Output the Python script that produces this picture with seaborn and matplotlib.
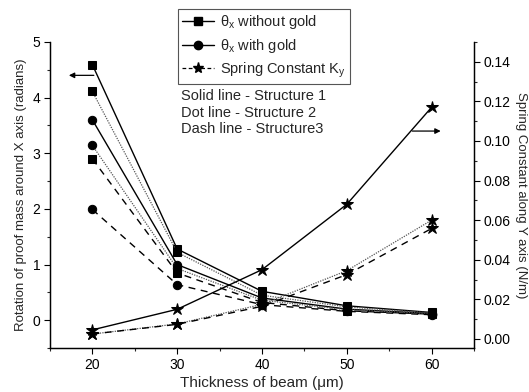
import numpy as np
import pandas as pd
import matplotlib
matplotlib.use("Agg")
import matplotlib.pyplot as plt
from matplotlib.lines import Line2D
from matplotlib.ticker import MultipleLocator, FormatStrFormatter
import seaborn as sns

sns.set_theme(style="ticks")
plt.rcParams["font.family"] = ["Liberation Sans", "DejaVu Sans"]
plt.rcParams["mathtext.default"] = "regular"

# Beam thickness (um)
thickness = [20, 30, 40, 50, 60]

# Rotation theta_x (radians) per structure
theta_nogold_s1 = [4.59, 1.28, 0.52, 0.26, 0.14]
theta_nogold_s2 = [4.11, 1.22, 0.45, 0.24, 0.13]
theta_nogold_s3 = [2.90, 0.85, 0.32, 0.17, 0.11]
theta_gold_s1 = [3.60, 1.00, 0.40, 0.20, 0.12]
theta_gold_s2 = [3.14, 0.93, 0.36, 0.19, 0.12]
theta_gold_s3 = [1.99, 0.64, 0.28, 0.16, 0.10]

# Spring constant K_y (N/m) per structure
ky_s1 = [0.0046, 0.015, 0.035, 0.068, 0.117]
ky_s2 = [0.0025, 0.0076, 0.0175, 0.0345, 0.060]
ky_s3 = [0.0025, 0.0074, 0.0165, 0.0325, 0.0558]

legend_labels = ["θ$_x$ without gold", "θ$_x$ with gold", "Spring Constant K$_y$"]
structure_notes = ["Solid line - Structure 1", "Dot line - Structure 2", "Dash line - Structure3"]

fig = plt.figure(figsize=(5.29, 3.92), dpi=100)
ax = fig.add_axes([0.0945, 0.112, 0.8015, 0.781])
ax2 = ax.twinx()

styles = {"s1": dict(ls="-", lw=1.0, color="black"),
          "s2": dict(ls=(0, (1, 1)), lw=0.9, color="#555555"),
          "s3": dict(ls=(0, (5, 4)), lw=1.0, color="black")}

theta_series = [
    (theta_nogold_s1, "s", "s1"), (theta_nogold_s2, "s", "s2"), (theta_nogold_s3, "s", "s3"),
    (theta_gold_s1, "o", "s1"), (theta_gold_s2, "o", "s2"), (theta_gold_s3, "o", "s3"),
]
for vals, mk, st in theta_series:
    df = pd.DataFrame({"t": thickness, "v": vals})
    sns.lineplot(data=df, x="t", y="v", ax=ax, marker=mk, markersize=6,
                 markeredgecolor="black", markerfacecolor="black",
                 linestyle=styles[st]["ls"], linewidth=styles[st]["lw"],
                 color=styles[st]["color"], legend=False)

for vals, st in [(ky_s1, "s1"), (ky_s2, "s2"), (ky_s3, "s3")]:
    df = pd.DataFrame({"t": thickness, "v": vals})
    sns.lineplot(data=df, x="t", y="v", ax=ax2, marker="*", markersize=9,
                 markeredgecolor="black", markerfacecolor="black",
                 linestyle=styles[st]["ls"], linewidth=styles[st]["lw"],
                 color=styles[st]["color"], legend=False)

ax.set_xlim(15, 65)
ax.set_ylim(-0.5, 5)
ax2.set_ylim(-0.0046, 0.15)
ax.xaxis.set_major_locator(MultipleLocator(10))
ax.xaxis.set_minor_locator(MultipleLocator(5))
ax.yaxis.set_major_locator(MultipleLocator(1))
ax.yaxis.set_minor_locator(MultipleLocator(0.5))
ax2.yaxis.set_major_locator(MultipleLocator(0.02))
ax2.yaxis.set_minor_locator(MultipleLocator(0.01))
ax2.yaxis.set_major_formatter(FormatStrFormatter("%.2f"))

for a in (ax, ax2):
    a.tick_params(which="major", direction="out", length=4, width=0.8, labelsize=10,
                  colors="black", pad=3)
    a.tick_params(which="minor", direction="out", length=2.5, width=0.8)
    for s in a.spines.values():
        s.set_linewidth(0.9)
        s.set_color("black")
ax.spines["top"].set_visible(False)
ax2.spines["top"].set_visible(False)

ax.set_xlabel("Thickness of beam (\u03bcm)", fontsize=11, labelpad=3)
ax.set_ylabel("Rotation of proof mass around X axis (radians)", fontsize=9.5, labelpad=4)
ax2.set_ylabel("Spring Constant along Y axis (N/m)", fontsize=9.5, rotation=-90)
ax2.yaxis.set_label_coords(1.126, 0.5)

# Arrows indicating which axis each group belongs to
ax.annotate("", xy=(16.9, 4.4), xytext=(20.5, 4.4),
            arrowprops=dict(arrowstyle="-|>", color="black", lw=0.9, mutation_scale=8))
ax2.annotate("", xy=(61.4, 0.105), xytext=(57.4, 0.105),
             arrowprops=dict(arrowstyle="-|>", color="black", lw=0.9, mutation_scale=8))

handles = [
    Line2D([], [], color="black", ls="-", lw=1.0, marker="s", markersize=6),
    Line2D([], [], color="black", ls="-", lw=1.0, marker="o", markersize=6),
    Line2D([], [], color="black", ls=(0, (3, 2)), lw=0.9, marker="*", markersize=8),
]
leg = fig.legend(handles, legend_labels, loc="upper left", bbox_to_anchor=(0.336, 0.978),
                 fontsize=10.5, frameon=True, fancybox=False, framealpha=1,
                 edgecolor="#555555", handlelength=2.2, borderpad=0.3, labelspacing=0.4,
                 handletextpad=0.4, borderaxespad=0)
leg.get_frame().set_linewidth(0.8)

for i, note in enumerate(structure_notes):
    fig.text(0.342, 0.755 - i * 0.042, note, fontsize=10.5, va="center", ha="left")

fig.savefig("out.png", dpi=100)
